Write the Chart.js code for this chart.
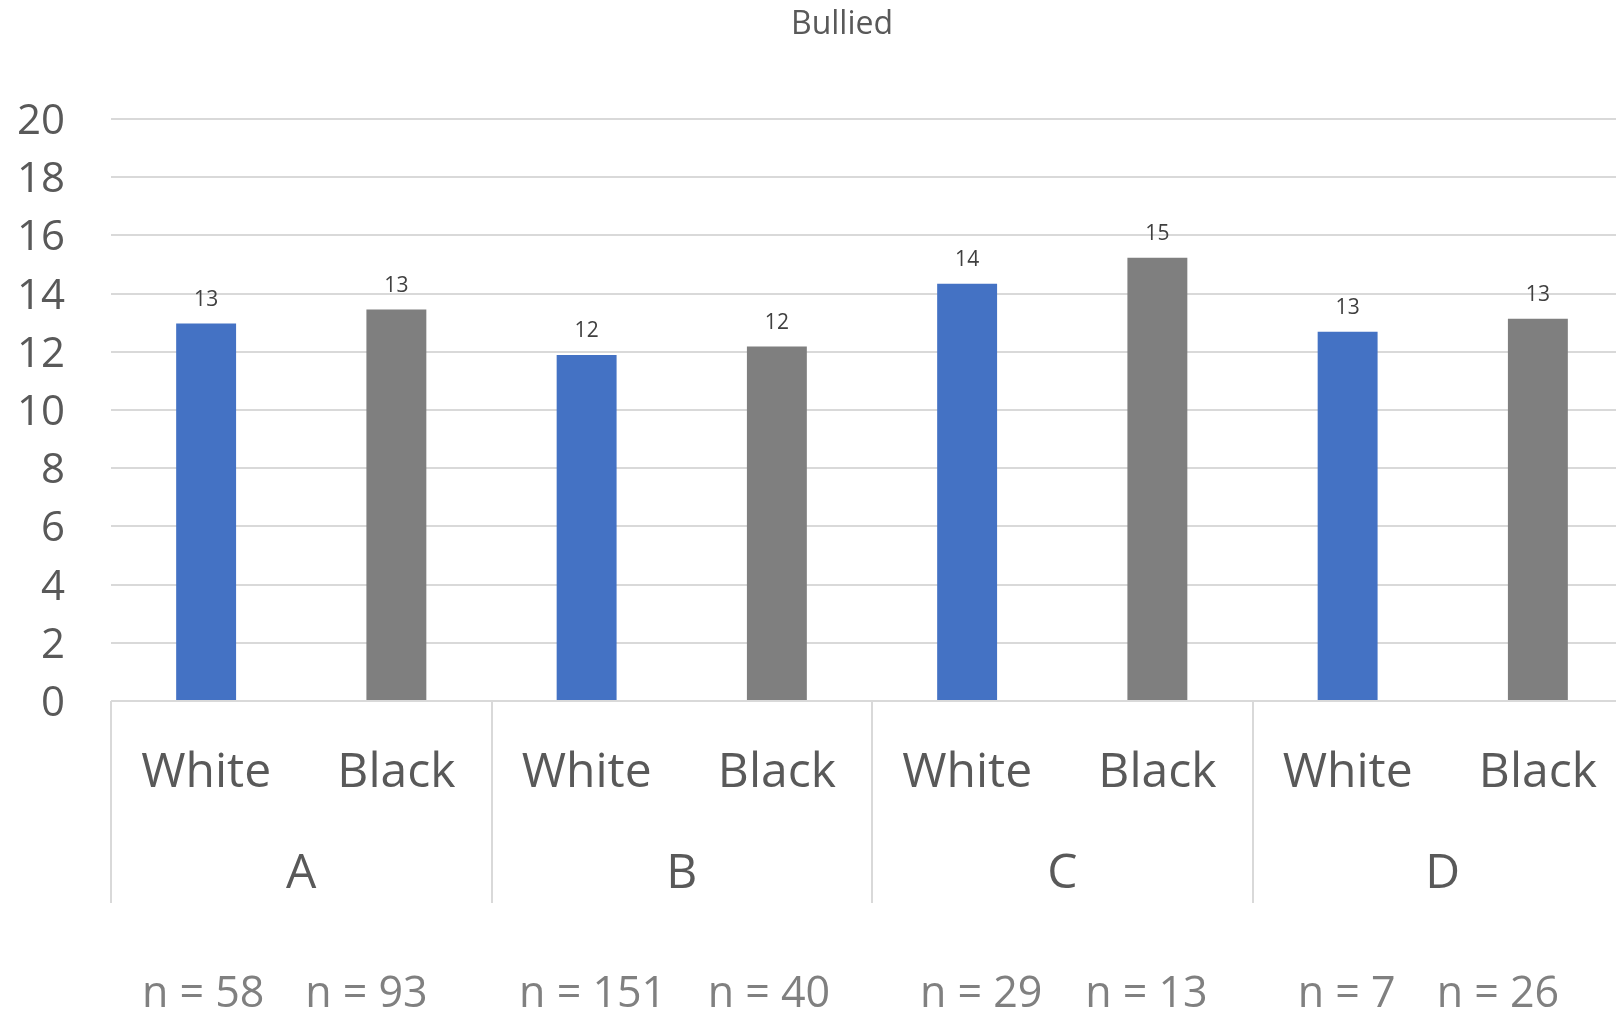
<!DOCTYPE html>
<html>
<head>
<meta charset="utf-8">
<script src="https://cdn.jsdelivr.net/npm/chart.js@4/dist/chart.umd.min.js"></script>
<style>
  html, body { margin: 0; padding: 0; overflow: hidden; background: #ffffff; }
  canvas { display: block; }
</style>
</head>
<body>
<canvas id="chart" width="1684" height="1014"></canvas>
<script>
// Survey groups and the race of respondents within each group
const groups = ['A', 'B', 'C', 'D'];
const barLabels = ['White', 'Black', 'White', 'Black', 'White', 'Black', 'White', 'Black'];
// Share reporting being bullied (%), one value per bar
const bulliedValues = [12.97, 13.45, 11.89, 12.18, 14.34, 15.23, 12.69, 13.14];
// Sample size behind each bar
const sampleSizes = [58, 93, 151, 40, 29, 13, 7, 26];
// Value axis
const yMin = 0;
const yMax = 20;
const yStep = 2;
const chartTitle = 'Bullied';

const FONT = "'Open Sans', 'Noto Sans', sans-serif";
const BLUE = '#4472C4';
const GREY = '#7F7F7F';
const TEXT = '#595959';
const RULE = '#D9D9D9';

// small horizontal nudges for the sample-size captions
const nShift = [-3, -30, 6, -8, 14, -11, -1, -40];

const titleText = {
  id: 'titleText',
  afterDraw(chart) {
    const ctx = chart.ctx;
    ctx.save();
    ctx.font = '32px ' + FONT;
    ctx.fillStyle = TEXT;
    ctx.textAlign = 'center';
    ctx.textBaseline = 'alphabetic';
    ctx.fillText(chartTitle, chart.width / 2, 34);
    ctx.restore();
  }
};

const valueLabels = {
  id: 'valueLabels',
  afterDatasetsDraw(chart) {
    const ctx = chart.ctx;
    const meta = chart.getDatasetMeta(0);
    ctx.save();
    ctx.font = '21px ' + FONT;
    ctx.fillStyle = '#404040';
    ctx.textAlign = 'center';
    ctx.textBaseline = 'alphabetic';
    meta.data.forEach((bar, i) => {
      ctx.fillText(String(Math.round(bulliedValues[i])), bar.x, bar.y - 18);
    });
    ctx.restore();
  }
};

// two-level category axis: race under each bar, group name under each pair,
// then the sample sizes
const groupAxis = {
  id: 'groupAxis',
  afterDraw(chart) {
    const ctx = chart.ctx;
    const x = chart.scales.x;
    const bottom = chart.chartArea.bottom;
    const slot = x.getPixelForValue(1) - x.getPixelForValue(0);
    ctx.save();
    ctx.strokeStyle = RULE;
    ctx.lineWidth = 2;
    ctx.beginPath();
    ctx.moveTo(Math.round(x.getPixelForValue(0) - slot / 2), bottom);
    ctx.lineTo(chart.width, bottom);
    ctx.stroke();
    for (let g = 0; g <= groups.length; g++) {
      const px = Math.round(x.getPixelForValue(2 * g) - slot / 2);
      ctx.beginPath();
      ctx.moveTo(px, bottom);
      ctx.lineTo(px, bottom + 202);
      ctx.stroke();
    }
    ctx.textAlign = 'center';
    ctx.textBaseline = 'alphabetic';
    ctx.font = '48px ' + FONT;
    ctx.fillStyle = TEXT;
    barLabels.forEach((name, i) => {
      ctx.fillText(name, x.getPixelForValue(i), bottom + 86);
    });
    groups.forEach((name, g) => {
      const cx = (x.getPixelForValue(2 * g) + x.getPixelForValue(2 * g + 1)) / 2;
      ctx.fillText(name, cx, bottom + 187);
    });
    ctx.font = '43px ' + FONT;
    ctx.fillStyle = '#808080';
    sampleSizes.forEach((n, i) => {
      ctx.fillText('n = ' + n, x.getPixelForValue(i) + nShift[i], bottom + 306);
    });
    ctx.restore();
  }
};

new Chart(document.getElementById('chart'), {
  type: 'bar',
  data: {
    labels: barLabels,
    datasets: [{
      label: chartTitle,
      data: bulliedValues,
      backgroundColor: barLabels.map(r => r === 'White' ? BLUE : GREY),
      barPercentage: 0.315,
      categoryPercentage: 1.0
    }]
  },
  options: {
    responsive: false,
    animation: false,
    layout: { padding: { left: 0, right: 51, top: 119, bottom: 313 } },
    plugins: {
      legend: { display: false },
      tooltip: { enabled: false },
      title: { display: false }
    },
    scales: {
      x: {
        grid: { display: false },
        border: { display: false },
        ticks: { display: false },
        afterFit(scale) { scale.height = 0; }
      },
      y: {
        min: yMin,
        max: yMax,
        grid: { color: RULE, lineWidth: 2, drawTicks: false },
        border: { display: false },
        ticks: {
          stepSize: yStep,
          color: TEXT,
          font: { family: FONT, size: 42 },
          padding: 46,
          labelOffset: 3
        },
        afterFit(scale) { scale.width = 111; }
      }
    }
  },
  plugins: [titleText, valueLabels, groupAxis]
});
</script>
</body>
</html>
